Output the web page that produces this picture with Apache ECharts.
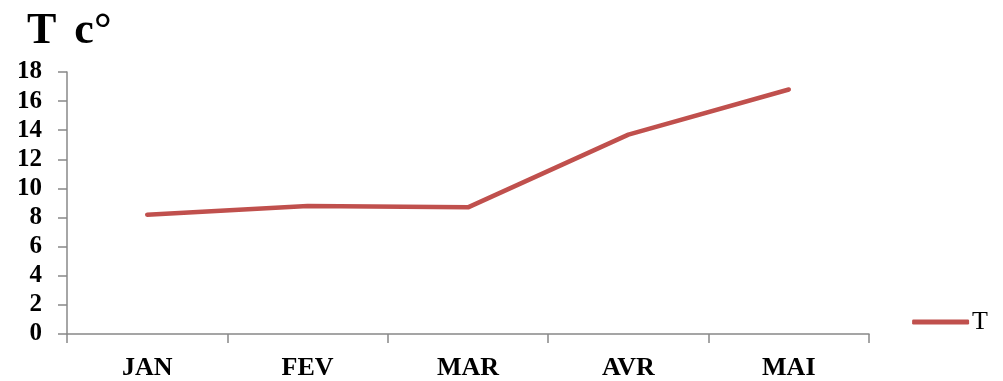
<!DOCTYPE html>
<html>
<head>
<meta charset="utf-8">
<script src="https://cdn.jsdelivr.net/npm/echarts@6/dist/echarts.min.js"></script>
<style>
  html, body { margin: 0; padding: 0; background: #fff; }
  #chart { width: 1003px; height: 381px; }
</style>
</head>
<body>
<div id="chart"></div>
<script>
// Monthly temperatures (°C)
const months = ['JAN', 'FEV', 'MAR', 'AVR', 'MAI'];
const temperature = [8.2, 8.8, 8.7, 13.7, 16.8];
const seriesName = 'T';

const serif = '"Liberation Serif", "DejaVu Serif", serif';
const axisGray = '#888888';
const lineRed = '#c0504d';

const titleFont = { fontFamily: serif, fontWeight: 'bold', fontSize: 44, color: '#000' };

const chart = echarts.init(document.getElementById('chart'));
chart.setOption({
  animation: false,
  backgroundColor: '#fff',
  title: {
    // "T c°" with a slightly wider gap before the unit
    text: '{t|T}{u|c°}',
    left: 22,
    top: 5,
    textStyle: {
      fontFamily: serif,
      rich: {
        t: Object.assign({}, titleFont),
        u: Object.assign({}, titleFont, { padding: [0, 0, 0, 18] })
      }
    }
  },
  legend: {
    data: [seriesName],
    right: 10,
    top: 304,
    icon: 'roundRect',
    itemWidth: 57,
    itemHeight: 5,
    itemGap: 4,
    textStyle: { fontFamily: serif, fontSize: 26, color: '#000', padding: [0, 0, 0, -2] }
  },
  grid: { left: 67, right: 134, top: 72, bottom: 47, containLabel: false },
  xAxis: {
    type: 'category',
    data: months,
    boundaryGap: true,
    axisLine: { lineStyle: { color: axisGray, width: 1.5 } },
    axisTick: { show: true, length: 9, lineStyle: { color: axisGray, width: 1.5 } },
    axisLabel: { fontFamily: serif, fontWeight: 'bold', fontSize: 26, color: '#000', margin: 21 }
  },
  yAxis: {
    type: 'value',
    min: 0,
    max: 18,
    interval: 2,
    splitLine: { show: false },
    axisLine: { show: true, lineStyle: { color: axisGray, width: 1.5 } },
    axisTick: { show: true, length: 9, lineStyle: { color: axisGray, width: 1.5 } },
    axisLabel: { fontFamily: serif, fontWeight: 'bold', fontSize: 25, color: '#000', margin: 25 }
  },
  series: [{
    name: seriesName,
    type: 'line',
    data: temperature,
    showSymbol: false,
    symbol: 'none',
    itemStyle: { color: lineRed },
    lineStyle: { color: lineRed, width: 4.5, cap: 'round', join: 'round' }
  }]
});
</script>
</body>
</html>
